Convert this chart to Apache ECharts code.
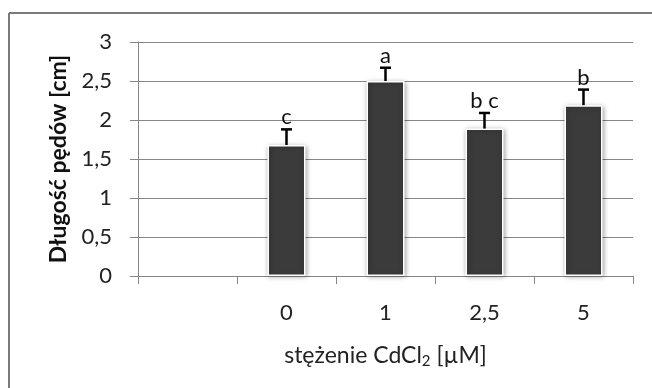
<!DOCTYPE html>
<html>
<head>
<meta charset="utf-8">
<script src="https://cdn.jsdelivr.net/npm/echarts@6/dist/echarts.min.js"></script>
<style>
  html, body { margin: 0; padding: 0; background: #fff; }
  #chart { width: 652px; height: 388px; }
</style>
</head>
<body>
<div id="chart"></div>
<script>
// stężenie CdCl2 [µM] (the first category is empty in the original)
const categories = ['', '0', '1', '2,5', '5']
const lengths = [null, 1.68, 2.50, 1.89, 2.19]
const errors = [null, 0.20, 0.17, 0.20, 0.20]
const letters = ['', 'c', 'a', 'b c', 'b']

const FONT = 'Lato'

const myChart = echarts.init(document.getElementById('chart'))

const errData = categories.map((c, i) => [i, lengths[i], errors[i], letters[i]])
  .filter(d => d[1] != null)

const option = {
  animation: false,
  textStyle: { fontFamily: FONT },
  grid: { left: 138, right: 19, top: 42, bottom: 112 },
  graphic: [
    // frame of the cropped chart area (only top and left visible)
    { type: 'line', shape: { x1: 9, y1: 13, x2: 652, y2: 13 }, style: { stroke: '#7a7a7a', lineWidth: 2 } },
    { type: 'line', shape: { x1: 9, y1: 13, x2: 9, y2: 388 }, style: { stroke: '#7a7a7a', lineWidth: 2 } }
  ],
  xAxis: {
    type: 'category',
    data: categories,
    axisLine: { lineStyle: { color: '#868686', width: 1 } },
    axisTick: { show: true, length: 8, lineStyle: { color: '#868686' } },
    axisLabel: { color: '#222', fontSize: 22, margin: 26, fontFamily: FONT },
    name: '{t|stężenie CdCl}{s|2}{t| [µM]}',
    nameLocation: 'middle',
    nameGap: 66,
    nameTextStyle: {
      rich: {
        t: { fontSize: 23, color: '#222', fontFamily: FONT },
        s: { fontSize: 15, color: '#222', fontFamily: FONT, padding: [12, 0, 0, 0] }
      }
    }
  },
  yAxis: {
    type: 'value',
    min: 0,
    max: 3,
    interval: 0.5,
    axisLine: { show: true, lineStyle: { color: '#868686', width: 1 } },
    axisTick: { show: true, length: 8, lineStyle: { color: '#868686' } },
    splitLine: { lineStyle: { color: '#868686', width: 1 } },
    axisLabel: {
      color: '#222',
      fontSize: 22,
      margin: 26,
      fontFamily: FONT,
      formatter: v => String(v).replace('.', ',')
    },
    name: 'Długość pędów [cm]',
    nameLocation: 'middle',
    nameGap: 68,
    nameTextStyle: { fontSize: 23, fontWeight: 'bold', color: '#111', fontFamily: FONT }
  },
  series: [
    {
      type: 'bar',
      data: lengths,
      barWidth: 38,
      itemStyle: {
        color: '#3b3b3b',
        borderColor: '#ffffff',
        borderWidth: 1.5,
        shadowBlur: 5,
        shadowColor: 'rgba(0,0,0,0.35)',
        shadowOffsetX: 1,
        shadowOffsetY: 1
      },
      z: 2
    },
    {
      type: 'custom',
      data: errData,
      z: 5,
      renderItem: (params, api) => {
        const x = api.value(0)
        const v = api.value(1)
        const e = api.value(2)
        const base = api.coord([x, v])
        const top = api.coord([x, v + e])
        const half = 5.5
        return {
          type: 'group',
          children: [
            { type: 'line', shape: { x1: base[0], y1: base[1], x2: top[0], y2: top[1] }, style: { stroke: '#000', lineWidth: 2.5 } },
            { type: 'line', shape: { x1: top[0] - half, y1: top[1], x2: top[0] + half, y2: top[1] }, style: { stroke: '#000', lineWidth: 2.5 } },
            {
              type: 'text',
              x: top[0],
              y: top[1] - 1,
              style: {
                text: errData[params.dataIndex][3],
                fill: '#111',
                font: '22px ' + FONT,
                align: 'center',
                verticalAlign: 'bottom'
              }
            }
          ]
        }
      }
    }
  ]
}

myChart.setOption(option)
</script>
</body>
</html>
